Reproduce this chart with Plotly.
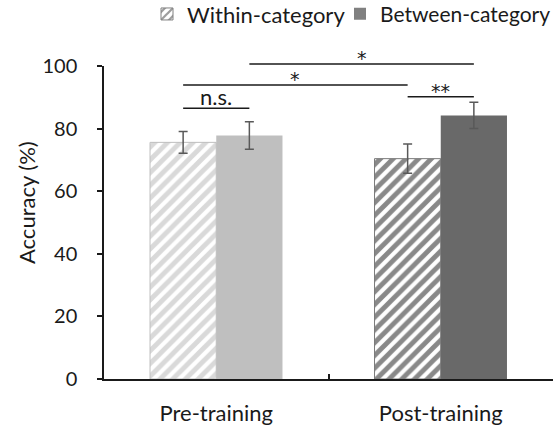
import plotly.graph_objects as go

# Group accuracy (%) with standard errors
categories = ["Pre-training", "Post-training"]
within_acc = [75.6, 70.4]
within_err = [3.5, 4.7]
between_acc = [77.8, 84.2]
between_err = [4.4, 4.2]

# Pairwise comparisons: (group a, series a, group b, series b, bar height, label)
comparisons = [
    (0, "within", 0, "between", 86.5, "n.s."),
    (1, "within", 1, "between", 90.2, "**"),
    (0, "within", 1, "within", 93.9, "*"),
    (0, "between", 1, "between", 100.6, "*"),
]

FONT = "Lato"
STAR_FONT = "DejaVu Sans"
TXT = "#1a1a1a"
Y_MAX = 100
BARGAP = 0.41
HALF = (1 - BARGAP) / 4  # centre offset of each bar inside its group

fig = go.Figure()

fig.add_trace(go.Bar(
    x=categories, y=within_acc, name="Within-category", offsetgroup="w",
    showlegend=False,
    marker=dict(
        color="white",
        line=dict(color=["#bfbfbf", "#7a7a7a"], width=1),
        pattern=dict(shape="/", fgcolor=["#b3b3b3", "#141414"], bgcolor="white",
                     size=9, solidity=0.55),
    ),
    error_y=dict(type="data", array=within_err, color="#595959", thickness=1.5, width=4.5),
))
fig.add_trace(go.Bar(
    x=categories, y=between_acc, name="Between-category", offsetgroup="b",
    showlegend=False,
    marker=dict(color=["#bfbfbf", "#696969"], line=dict(width=0)),
    error_y=dict(type="data", array=between_err, color="#595959", thickness=1.5, width=4.5),
))

# Legend entries, one legend each so they can be placed independently
fig.add_trace(go.Bar(
    x=[categories[0]], y=[None], name="Within-category", offsetgroup="w", legend="legend",
    marker=dict(color="white", line=dict(color="#808080", width=1),
                pattern=dict(shape="/", fgcolor="#3a3a3a", bgcolor="white", size=7, solidity=0.4)),
))
fig.add_trace(go.Bar(
    x=[categories[0]], y=[None], name="Between-category", offsetgroup="b", legend="legend2",
    marker=dict(color="#808080", line=dict(width=0)),
))


def xpos(group, series):
    off = -HALF if series == "within" else HALF
    return group + off


def to_paper_x(v):
    return (v + 0.5) / len(categories)


def to_paper_y(v):
    return v / Y_MAX


for ga, sa, gb, sb, h, label in comparisons:
    x0 = to_paper_x(xpos(ga, sa))
    x1 = to_paper_x(xpos(gb, sb))
    y = to_paper_y(h)
    fig.add_shape(type="line", xref="paper", yref="paper", x0=x0, x1=x1, y0=y, y1=y,
                  line=dict(color="#1a1a1a", width=1.5))
    star = label != "n.s."
    fig.add_annotation(
        xref="paper", yref="paper", x=(x0 + x1) / 2, y=y, text=label,
        showarrow=False, xanchor="center", yanchor="middle",
        yshift=(6 if star else 12),
        font=dict(family=STAR_FONT if star else FONT, size=(19 if star else 22), color=TXT),
    )

fig.add_annotation(
    xref="paper", yref="paper", x=-0.174, y=0.565, text="Accuracy (%)",
    xanchor="center", yanchor="middle",
    textangle=-90, showarrow=False, font=dict(family=FONT, size=22, color=TXT),
)

legend_style = dict(orientation="h", y=0.967, yanchor="middle", yref="container",
                    bgcolor="rgba(0,0,0,0)", itemwidth=30)

fig.update_layout(
    width=556, height=429,
    margin=dict(l=104, r=3, t=66, b=45),
    paper_bgcolor="white", plot_bgcolor="white",
    barmode="group", bargap=BARGAP, bargroupgap=0,
    font=dict(family=FONT, size=22, color=TXT),
    showlegend=True,
    legend=dict(x=0.0958, xanchor="left", font=dict(family=FONT, size=22, color=TXT),
                **legend_style),
    legend2=dict(x=1.0, xref="container", xanchor="right",
                 font=dict(family=FONT, size=21, color=TXT), **legend_style),
    xaxis=dict(
        showline=True, linecolor="#1a1a1a", linewidth=1.5,
        ticks="inside", ticklen=5, tickcolor="#1a1a1a", tickwidth=1.5,
        tickson="boundaries", showgrid=False, ticklabelstandoff=14,
        tickfont=dict(family=FONT, size=22, color=TXT),
    ),
    yaxis=dict(
        range=[0, Y_MAX], tickvals=[0, 20, 40, 60, 80, 100],
        showline=True, linecolor="#1a1a1a", linewidth=1.5,
        ticks="outside", ticklen=5, tickcolor="#1a1a1a", tickwidth=1.5,
        showgrid=False, zeroline=False, ticklabelstandoff=16,
        tickfont=dict(family=FONT, size=20, color=TXT),
    ),
)

fig.write_html("out.html")
